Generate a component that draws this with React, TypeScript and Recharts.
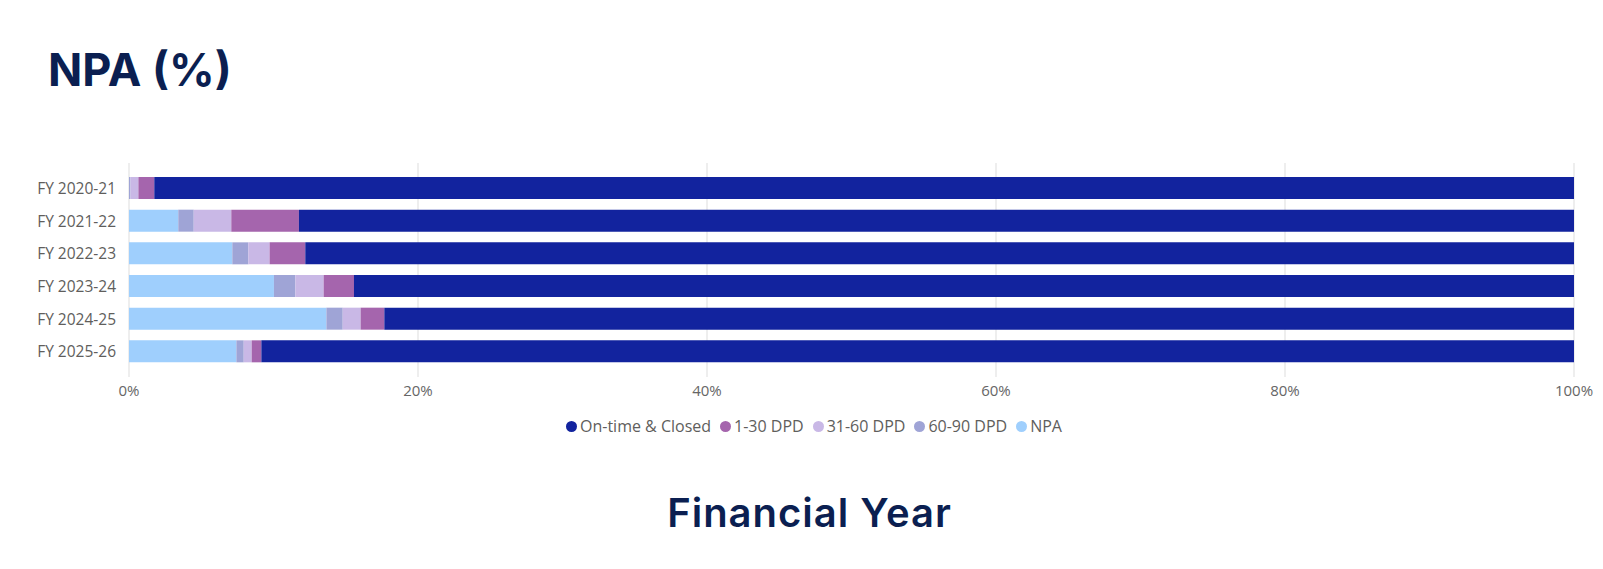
import { BarChart, Bar, XAxis, YAxis, CartesianGrid } from "recharts";

const years = ["FY 2020-21", "FY 2021-22", "FY 2022-23", "FY 2023-24", "FY 2024-25", "FY 2025-26"];
const npa = [0.0, 3.41, 7.15, 10.03, 13.66, 7.43];
const dpd60to90 = [0.1, 1.07, 1.11, 1.48, 1.13, 0.51];
const dpd31to60 = [0.55, 2.6, 1.47, 1.96, 1.24, 0.55];
const dpd1to30 = [1.1, 4.68, 2.47, 2.1, 1.64, 0.67];
const onTime = [98.25, 88.24, 87.8, 84.43, 82.33, 90.84];
const xTicks = [0, 20, 40, 60, 80, 100];

// stacking order left to right
const series = [
  { key: "npa", name: "NPA", color: "#9FCFFD", values: npa },
  { key: "d60", name: "60-90 DPD", color: "#9FA4D6", values: dpd60to90 },
  { key: "d31", name: "31-60 DPD", color: "#C9B8E6", values: dpd31to60 },
  { key: "d1", name: "1-30 DPD", color: "#A565AD", values: dpd1to30 },
  { key: "ontime", name: "On-time & Closed", color: "#12239E", values: onTime },
];

const data = years.map((year, i) => {
  const row: Record<string, string | number> = { year };
  series.forEach((s) => (row[s.key] = s.values[i]));
  return row;
});

const legendOrder = [...series].reverse();

export default function App() {
  return (
    <div style={{ position: "relative", width: 1603, height: 569, background: "#fff", overflow: "hidden" }}>
      <style>{`body{margin:0}`}</style>
      <div
        style={{
          position: "absolute",
          left: 48,
          top: 47,
          fontFamily: "Inter",
          fontWeight: 700,
          fontSize: 45,
          lineHeight: 1,
          color: "#0B1F51",
        }}
      >
        NPA (%)
      </div>
      <div style={{ position: "absolute", left: 0, top: 0 }}>
        <BarChart
          width={1603}
          height={407}
          data={data}
          layout="vertical"
          margin={{ top: 163, right: 29, left: 0, bottom: 0 }}
          barSize={22}
        >
          <CartesianGrid horizontal={false} stroke="#E9E9E9" strokeWidth={1.5} />
          <XAxis
            type="number"
            domain={[0, 100]}
            ticks={xTicks}
            tickFormatter={(v) => `${v}%`}
            axisLine={false}
            tickLine={false}
            height={30}
            tick={{ fill: "#666666", fontSize: 15, fontFamily: "Open Sans" }}
          />
          <YAxis
            type="category"
            dataKey="year"
            width={129}
            axisLine={false}
            tickLine={false}
            tickMargin={7}
            padding={{ top: 9, bottom: 9 }}
            tick={{ fill: "#605E5C", fontSize: 15.5, fontFamily: "Open Sans" }}
          />
          {series.map((s) => (
            <Bar key={s.key} dataKey={s.key} name={s.name} stackId="a" fill={s.color} isAnimationActive={false} />
          ))}
        </BarChart>
      </div>
      <div
        style={{
          position: "absolute",
          left: 566,
          top: 416,
          height: 20,
          display: "flex",
          alignItems: "center",
          fontFamily: "Open Sans",
          fontSize: 16,
          color: "#605E5C",
          whiteSpace: "nowrap",
        }}
      >
        {legendOrder.map((s) => (
          <div key={s.key} style={{ display: "flex", alignItems: "center", marginRight: 9 }}>
            <span
              style={{
                display: "inline-block",
                width: 11,
                height: 11,
                borderRadius: "50%",
                background: s.color,
                marginRight: 3,
              }}
            />
            <span>{s.name}</span>
          </div>
        ))}
      </div>
      <div
        style={{
          position: "absolute",
          left: 8,
          top: 493,
          width: 1603,
          textAlign: "center",
          fontFamily: "Inter",
          fontWeight: 600,
          fontSize: 40,
          lineHeight: 1,
          letterSpacing: 1,
          color: "#0B1F51",
        }}
      >
        Financial Year
      </div>
    </div>
  );
}
